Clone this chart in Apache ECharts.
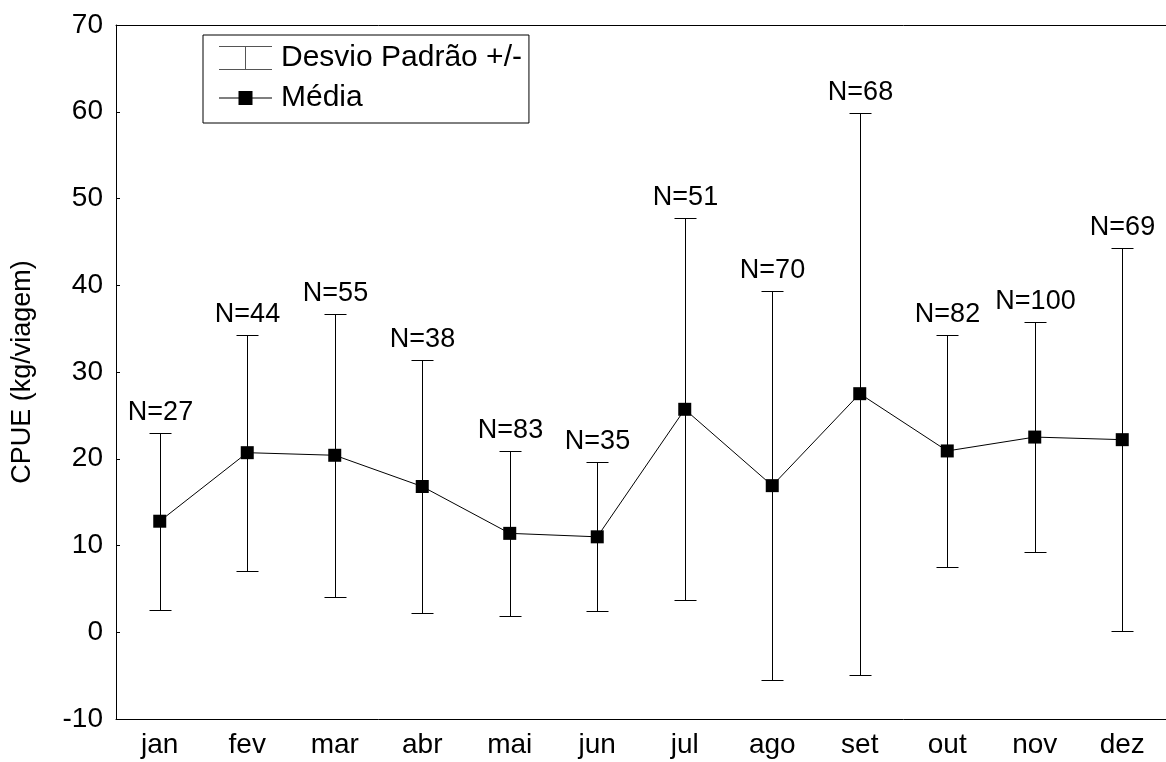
<!DOCTYPE html>
<html>
<head>
<meta charset="utf-8">
<title>CPUE mensal</title>
<script src="https://cdn.jsdelivr.net/npm/echarts@6/dist/echarts.min.js"></script>
<style>
  html, body { margin: 0; padding: 0; background: #fff; }
  #chart { width: 1166px; height: 762px; }
</style>
</head>
<body>
<div id="chart"></div>
<script>
// Monthly CPUE (kg/viagem): mean, standard deviation and sample size
var months = ['jan', 'fev', 'mar', 'abr', 'mai', 'jun', 'jul', 'ago', 'set', 'out', 'nov', 'dez'];
var means  = [12.8, 20.7, 20.4, 16.8, 11.4, 11.0, 25.7, 16.9, 27.5, 20.9, 22.5, 22.2];
var sd     = [10.2, 13.6, 16.3, 14.6, 9.5, 8.6, 22.0, 22.4, 32.4, 13.4, 13.3, 22.1];
var counts = [27, 44, 55, 38, 83, 35, 51, 70, 68, 82, 100, 69];
var yTicks = { min: -10, max: 70, interval: 10 };

var FONT = '"Liberation Sans", Arial, Helvetica, sans-serif';

// error bar rows: [index, mean - sd, mean + sd, N]
var barRows = months.map(function (m, i) {
  return [i, +(means[i] - sd[i]).toFixed(2), +(means[i] + sd[i]).toFixed(2), counts[i]];
});

function renderErrorBar(params, api) {
  var i = api.value(0);
  var lo = api.coord([i, api.value(1)]);
  var hi = api.coord([i, api.value(2)]);
  var x = Math.round(hi[0]) + 0.5;
  var yHi = Math.round(hi[1]) + 0.5;
  var yLo = Math.round(lo[1]) + 0.5;
  var w = 11;
  var stroke = { stroke: '#000', lineWidth: 1 };
  return {
    type: 'group',
    children: [
      { type: 'line', shape: { x1: x, y1: yHi, x2: x, y2: yLo }, style: stroke },
      { type: 'line', shape: { x1: x - w, y1: yHi, x2: x + w, y2: yHi }, style: stroke },
      { type: 'line', shape: { x1: x - w, y1: yLo, x2: x + w, y2: yLo }, style: stroke },
      {
        type: 'text', x: x, y: yHi - 21,
        style: {
          text: 'N=' + api.value(3), fontSize: 27, fontFamily: FONT, fill: '#000',
          align: 'center', verticalAlign: 'middle'
        }
      }
    ]
  };
}

var chart = echarts.init(document.getElementById('chart'), null, { renderer: 'canvas' });

chart.setOption({
  backgroundColor: '#fff',
  animation: false,
  grid: { left: 116, right: -9, top: 25, bottom: 43, containLabel: false },
  legend: {
    orient: 'vertical',
    left: 203, top: 35,
    padding: [8, 7, 10, 16],
    itemGap: 10, itemWidth: 53, itemHeight: 24,
    borderColor: '#000', borderWidth: 1, borderRadius: 0,
    backgroundColor: '#fff',
    selectedMode: false,
    textStyle: { fontSize: 30, fontFamily: FONT, color: '#000', lineHeight: 24, padding: [0, 0, 0, 4] },
    data: [
      {
        name: 'Desvio Padrão +/-',
        icon: 'path://M0,0h53v1h-53z M26,0h1v24h-1z M0,23h53v1h-53z',
        itemStyle: { color: '#555', borderWidth: 0 }
      },
      {
        name: 'Média',
        icon: 'path://M0,0h0.01v0.01h-0.01z M0,11.5h53v1h-53z M19.5,5h14v14h-14z M52.99,23.99h0.01v0.01h-0.01z',
        itemStyle: { color: '#000', borderWidth: 0 }
      }
    ]
  },
  xAxis: [
    {
      type: 'category', data: months, position: 'bottom', boundaryGap: true,
      axisLine: { onZero: false, lineStyle: { color: '#000', width: 1 } },
      axisTick: { inside: true, length: 4, lineStyle: { color: '#000' } },
      axisLabel: { fontSize: 28, fontFamily: FONT, color: '#000', margin: 12 },
      splitLine: { show: false }
    },
    {
      type: 'category', data: months, position: 'top', boundaryGap: true,
      axisLine: { onZero: false, lineStyle: { color: '#000', width: 1 } },
      axisTick: { inside: true, length: 4, lineStyle: { color: '#000' } },
      axisLabel: { show: false },
      splitLine: { show: false }
    }
  ],
  yAxis: {
    type: 'value', min: yTicks.min, max: yTicks.max, interval: yTicks.interval,
    name: 'CPUE (kg/viagem)', nameLocation: 'middle', nameGap: 80,
    nameTextStyle: { fontSize: 27, fontFamily: FONT, color: '#000' },
    axisLine: { show: true, onZero: false, lineStyle: { color: '#000', width: 1 } },
    axisTick: { show: true, inside: true, length: 4, lineStyle: { color: '#000' } },
    axisLabel: { fontSize: 28, fontFamily: FONT, color: '#000', margin: 13 },
    splitLine: { show: false }
  },
  series: [
    {
      name: 'Desvio Padrão +/-',
      type: 'custom',
      xAxisIndex: 0,
      renderItem: renderErrorBar,
      encode: { x: 0, y: [1, 2] },
      data: barRows,
      itemStyle: { color: '#555' },
      z: 2,
      silent: true
    },
    {
      name: 'Média',
      type: 'line',
      xAxisIndex: 0,
      data: means,
      symbol: 'rect',
      symbolSize: 13,
      itemStyle: { color: '#000' },
      lineStyle: { color: '#000', width: 1 },
      z: 3,
      silent: true
    }
  ]
});
</script>
</body>
</html>
